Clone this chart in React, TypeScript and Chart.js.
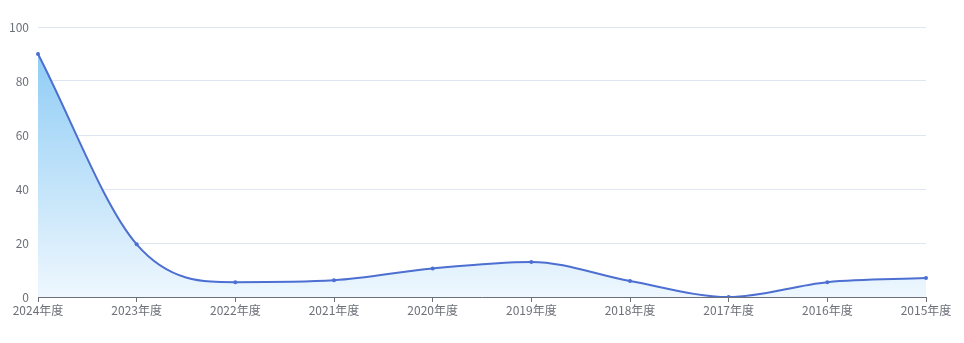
import React, { useEffect, useRef } from "react";
import { Chart, registerables } from "chart.js";

Chart.register(...registerables);

const categories = ["2024年度", "2023年度", "2022年度", "2021年度", "2020年度", "2019年度", "2018年度", "2017年度", "2016年度", "2015年度"];
const values = [90, 19.5, 5.5, 6.2, 10.6, 13, 5.9, 0, 5.5, 7];
const yTicks = [0, 20, 40, 60, 80, 100];

const FONT = "'Microsoft YaHei', 'Noto Sans CJK SC', sans-serif";
const AXIS = "#6E7079";

export default function App() {
  const ref = useRef<HTMLCanvasElement | null>(null);
  useEffect(() => {
    document.body.style.margin = "0";
    const canvas = ref.current!;
    const chart = new Chart(canvas, {
      type: "line",
      data: {
        labels: categories,
        datasets: [
          {
            data: values,
            borderColor: "#4c6fd1",
            borderWidth: 2,
            pointRadius: 2,
            pointBackgroundColor: "#4c6fd1",
            pointBorderWidth: 0,
            cubicInterpolationMode: "monotone",
            fill: "origin",
            backgroundColor: (ctx: any) => {
              const c = ctx.chart;
              const area = c.chartArea;
              if (!area) return "rgba(150,207,245,0.5)";
              const y = c.scales.y;
              const g = c.ctx.createLinearGradient(0, y.getPixelForValue(90), 0, area.bottom);
              g.addColorStop(0, "#90cdf5");
              g.addColorStop(1, "#eef7fe");
              return g;
            },
          },
        ],
      },
      options: {
        animation: false,
        responsive: false,
        maintainAspectRatio: false,
        layout: { padding: { top: 27, right: 38, left: 0, bottom: 0 } },
        plugins: { legend: { display: false }, tooltip: { enabled: false } },
        scales: {
          x: {
            type: "category",
            offset: false,
            grid: { drawOnChartArea: false, drawTicks: true, tickLength: 5, color: AXIS },
            border: { display: true, color: AXIS, width: 1 },
            ticks: { color: AXIS, font: { size: 12, family: FONT }, padding: 1, maxRotation: 0, autoSkip: false },
            afterFit: (s: any) => { s.height = 46; },
          },
          y: {
            min: 0,
            max: 100,
            afterBuildTicks: (s: any) => { s.ticks = yTicks.map((v) => ({ value: v })); },
            grid: { color: "#E0E6F1", drawTicks: false },
            border: { display: false },
            ticks: { color: AXIS, font: { size: 12, family: FONT }, padding: 9 },
            afterFit: (s: any) => { s.width = 38; },
          },
        },
      },
    });
    return () => chart.destroy();
  }, []);
  return (
    <div style={{ width: 964, height: 343 }}>
      <canvas ref={ref} width={964} height={343} style={{ display: "block" }} />
    </div>
  );
}
